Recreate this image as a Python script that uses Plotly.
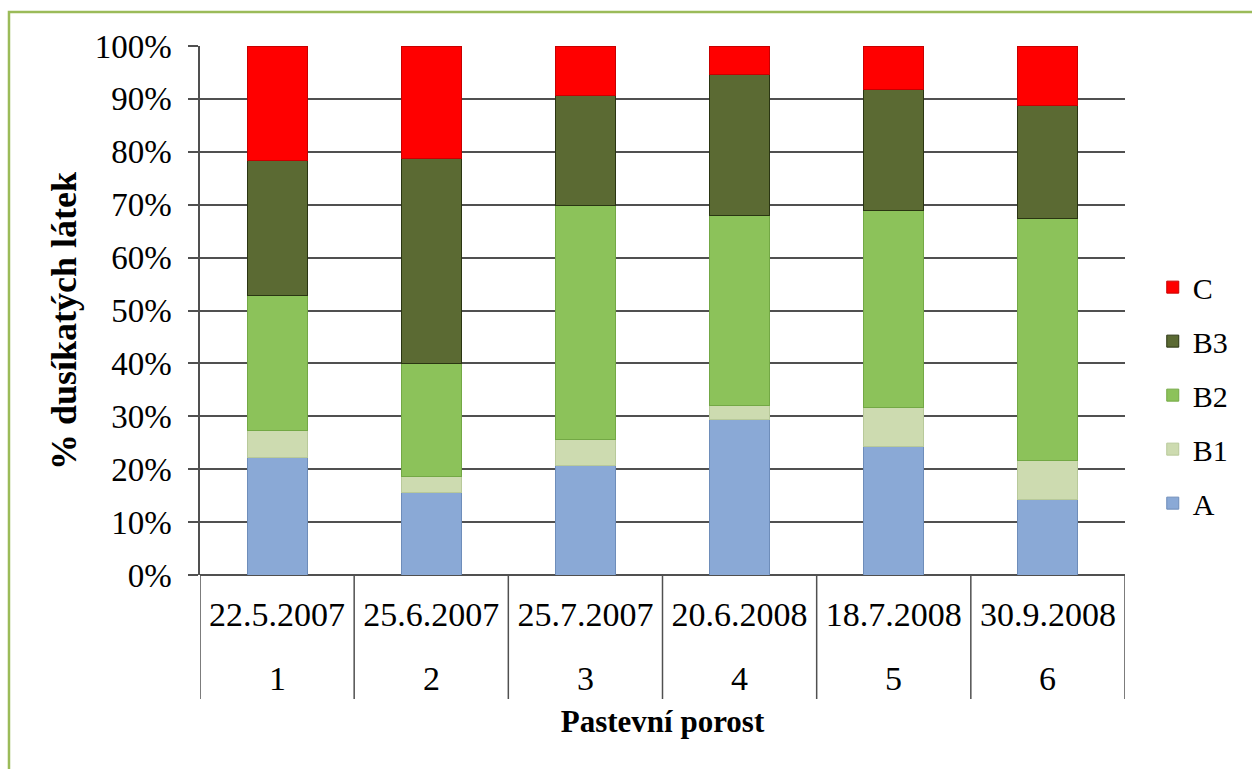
import plotly.graph_objects as go

# Sampling dates and plot numbers for the grazed sward
dates = ["22.5.2007", "25.6.2007", "25.7.2007", "20.6.2008", "18.7.2008", "30.9.2008"]
plots = ["1", "2", "3", "4", "5", "6"]

# Share of nitrogen fractions (% of total nitrogenous compounds)
frac_A = [22.3, 15.6, 20.7, 29.4, 24.3, 14.3]
frac_B1 = [5.1, 3.1, 5.0, 2.7, 7.3, 7.4]
frac_B2 = [25.5, 21.2, 44.1, 35.8, 37.3, 45.7]
frac_B3 = [25.4, 38.9, 20.9, 26.8, 22.9, 21.3]
frac_C = [21.7, 21.2, 9.3, 5.3, 8.2, 11.3]

# name, values, fill, edge, legend rank (C listed first)
series = [
    ("A", frac_A, "#8AA9D6", "#6E8DBA", 5),
    ("B1", frac_B1, "#CDDBB0", "#B8C99A", 4),
    ("B2", frac_B2, "#8CC25A", "#73A845", 3),
    ("B3", frac_B3, "#5B6A33", "#2A3512", 2),
    ("C", frac_C, "#FF0000", "#C80000", 1),
]

SERIF = "Liberation Serif"
GRID = "#505050"

# plot area in pixels: 925 wide, 529 tall, bottom edge at y=575
PLOT_W = 925
PLOT_H = 529
LABEL_ROW2 = -(678 - 575) / PLOT_H      # second label row (plot numbers)
DIVIDER_END = -(699 - 575) / PLOT_H     # lower end of the category dividers

fig = go.Figure()
for name, vals, fill, edge, rank in series:
    fig.add_trace(go.Bar(
        x=dates,
        y=vals,
        name=name,
        legendgroup=name,
        legendrank=rank,
        marker=dict(color=fill, line=dict(color=edge, width=1)),
        width=0.39,
    ))

annotations = [
    dict(text=p, x=d, xref="x", y=LABEL_ROW2, yref="paper",
         showarrow=False, yanchor="middle", xanchor="center",
         font=dict(size=34, family=SERIF, color="black"))
    for d, p in zip(dates, plots)
]
# y axis title
annotations.append(dict(
    text="<b>% dusíkatých látek</b>", textangle=-90,
    x=-136 / PLOT_W, xref="paper", y=(575 - 321) / PLOT_H, yref="paper",
    xanchor="center", yanchor="middle", showarrow=False,
    font=dict(size=36, family=SERIF, color="black"),
))

# vertical dividers separating the category label cells
shapes = [
    dict(type="line", xref="x", yref="paper",
         x0=i - 0.5, x1=i - 0.5, y0=0, y1=DIVIDER_END,
         line=dict(color=GRID, width=1.5))
    for i in range(len(dates) + 1)
]
# green frame around the chart area
shapes.append(dict(type="rect", xref="paper", yref="paper",
                   x0=-0.2065, x1=1.2, y0=-0.6, y1=1.0643,
                   line=dict(color="#9BBB59", width=2.5),
                   fillcolor="rgba(0,0,0,0)", layer="below"))

fig.update_layout(
    barmode="stack",
    width=1252,
    height=769,
    paper_bgcolor="white",
    plot_bgcolor="white",
    margin=dict(l=200, r=127, t=46, b=194),
    font=dict(family=SERIF, color="black"),
    showlegend=True,
    legend=dict(
        traceorder="grouped",
        x=1.03, xanchor="left",
        y=0.34, yanchor="middle",
        font=dict(size=30, family=SERIF),
        tracegroupgap=12,
        bgcolor="rgba(0,0,0,0)",
    ),
    xaxis=dict(
        type="category",
        range=[-0.5, len(dates) - 0.5],
        showline=False,
        showgrid=False,
        ticks="",
        ticklabelstandoff=16,
        tickfont=dict(size=34, family=SERIF),
        title=dict(text="<b>Pastevní porost</b>", font=dict(size=31, family=SERIF), standoff=78),
    ),
    yaxis=dict(
        range=[0, 100],
        tickvals=[0, 10, 20, 30, 40, 50, 60, 70, 80, 90, 100],
        ticktext=[f"{v}%" for v in range(0, 101, 10)],
        showgrid=True,
        gridcolor=GRID,
        gridwidth=1.5,
        showline=True,
        linecolor=GRID,
        linewidth=1.5,
        ticks="outside",
        ticklen=10,
        tickcolor=GRID,
        tickwidth=1.5,
        ticklabelstandoff=10,
        tickfont=dict(size=33, family=SERIF),
        zeroline=True,
        zerolinecolor=GRID,
        zerolinewidth=1.5,
    ),
    annotations=annotations,
    shapes=shapes,
)

fig.write_html("out.html")
